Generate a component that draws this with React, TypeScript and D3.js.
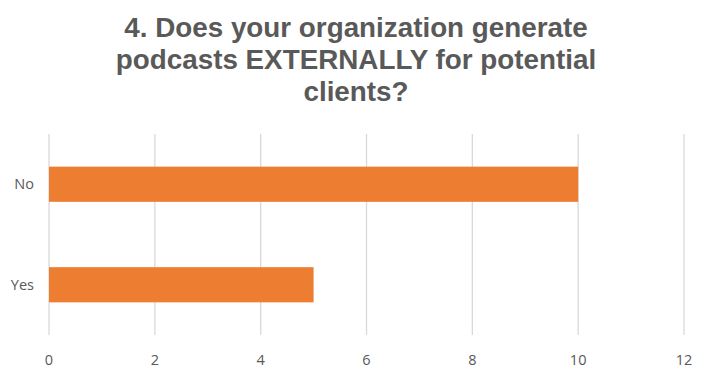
import React from "react";
import * as d3 from "d3";

const categories = ["No", "Yes"];
const values = [10, 5];
const xTicks = [0, 2, 4, 6, 8, 10, 12];
const titleLines = [
  "4. Does your organization generate",
  "podcasts EXTERNALLY for potential",
  "clients?",
];

export default function App() {
  const W = 706, H = 378;
  const x = d3.scaleLinear().domain([0, 12]).range([49, 684]);
  const y = d3.scaleBand().domain(categories).range([134, 335]).paddingInner(0.65).paddingOuter(0.325);
  return (
    <svg width={W} height={H} style={{ position: "absolute", left: 0, top: 0 }}>
      <rect width={W} height={H} fill="#fff" />
      {titleLines.map((t, i) => (
        <text key={i} x={356} y={37 + i * 32} textAnchor="middle" fontFamily="'Liberation Sans', Arial, sans-serif" fontWeight="bold" fontSize={27.8} fill="#595959">{t}</text>
      ))}
      {xTicks.map((t) => (
        <g key={t}>
          <line x1={x(t)} x2={x(t)} y1={134} y2={335} stroke="#d9d9d9" strokeWidth={1.3} />
          <text x={x(t)} y={365} textAnchor="middle" fontFamily="'Open Sans', sans-serif" fontSize={14.5} fill="#595959">{t}</text>
        </g>
      ))}
      {categories.map((c, i) => (
        <g key={c}>
          <rect x={x(0)} y={y(c)} width={x(values[i]) - x(0)} height={y.bandwidth()} fill="#ed7d31" />
          <text x={34} y={(y(c) as number) + y.bandwidth() / 2 + 5} textAnchor="end" fontFamily="'Open Sans', sans-serif" fontSize={14.5} fill="#595959">{c}</text>
        </g>
      ))}
    </svg>
  );
}
